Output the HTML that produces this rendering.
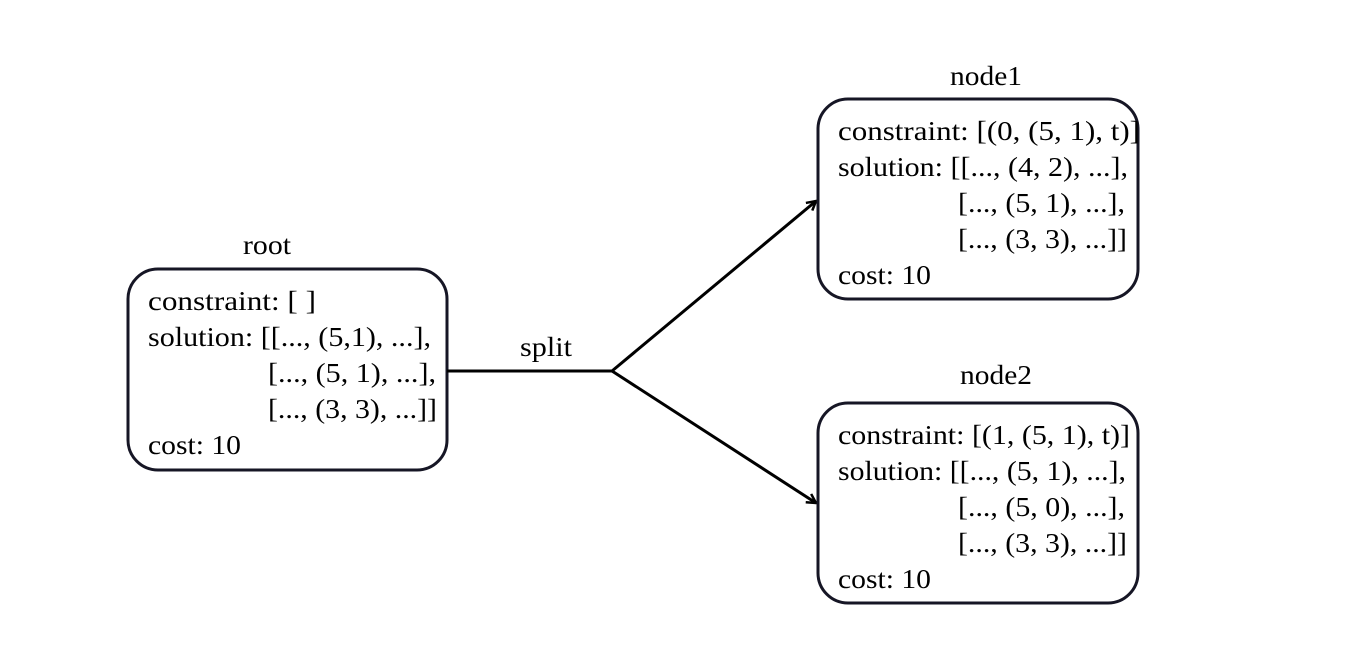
<!DOCTYPE html>
<html><head><meta charset="utf-8"><style>
html,body{margin:0;padding:0;background:#fff;}
svg{display:block;}
text{font-family:"Liberation Serif",serif;font-size:27px;fill:#000;}
</style></head><body>
<svg width="1347" height="670" viewBox="0 0 1347 670">
<defs><marker id="ah" markerWidth="12" markerHeight="12" refX="10" refY="6" orient="auto" markerUnits="userSpaceOnUse"><path d="M1,1 L10,6 L1,11" fill="none" stroke="#000" stroke-width="2.5"/></marker></defs>
<g>
<text x="243" y="254" textLength="48" lengthAdjust="spacingAndGlyphs">root</text>
<rect x="128" y="269" width="319" height="201" rx="30" fill="#fff" stroke="#161625" stroke-width="3"/>
<text x="148" y="310" textLength="168" lengthAdjust="spacingAndGlyphs">constraint: [ ]</text>
<text x="148" y="346" textLength="283" lengthAdjust="spacingAndGlyphs">solution: [[..., (5,1), ...],</text>
<text x="268" y="382" textLength="168" lengthAdjust="spacingAndGlyphs">[..., (5, 1), ...],</text>
<text x="268" y="418" textLength="169" lengthAdjust="spacingAndGlyphs">[..., (3, 3), ...]]</text>
<text x="148" y="454" textLength="93" lengthAdjust="spacingAndGlyphs">cost: 10</text>
</g>
<g>
<text x="520" y="356" textLength="52" lengthAdjust="spacingAndGlyphs">split</text>
<line x1="447" y1="371" x2="612" y2="371" stroke="#000" stroke-width="3"/>
<line x1="612" y1="371" x2="816" y2="201" stroke="#000" stroke-width="3" marker-end="url(#ah)"/>
<line x1="612" y1="371" x2="816" y2="503" stroke="#000" stroke-width="3" marker-end="url(#ah)"/>
</g>
<g>
<text x="950" y="85" textLength="72" lengthAdjust="spacingAndGlyphs">node1</text>
<rect x="818" y="99" width="320" height="200" rx="30" fill="#fff" stroke="#161625" stroke-width="3"/>
<text x="838" y="140" textLength="302" lengthAdjust="spacingAndGlyphs">constraint: [(0, (5, 1), t)]</text>
<text x="838" y="176" textLength="290" lengthAdjust="spacingAndGlyphs">solution: [[..., (4, 2), ...],</text>
<text x="958" y="212" textLength="167" lengthAdjust="spacingAndGlyphs">[..., (5, 1), ...],</text>
<text x="958" y="248" textLength="169" lengthAdjust="spacingAndGlyphs">[..., (3, 3), ...]]</text>
<text x="838" y="284" textLength="93" lengthAdjust="spacingAndGlyphs">cost: 10</text>
</g>
<g>
<text x="960" y="384" textLength="72" lengthAdjust="spacingAndGlyphs">node2</text>
<rect x="818" y="403" width="320" height="200" rx="30" fill="#fff" stroke="#161625" stroke-width="3"/>
<text x="838" y="444" textLength="292" lengthAdjust="spacingAndGlyphs">constraint: [(1, (5, 1), t)]</text>
<text x="838" y="480" textLength="288" lengthAdjust="spacingAndGlyphs">solution: [[..., (5, 1), ...],</text>
<text x="958" y="516" textLength="167" lengthAdjust="spacingAndGlyphs">[..., (5, 0), ...],</text>
<text x="958" y="552" textLength="169" lengthAdjust="spacingAndGlyphs">[..., (3, 3), ...]]</text>
<text x="838" y="588" textLength="93" lengthAdjust="spacingAndGlyphs">cost: 10</text>
</g>
</svg>
</body></html>
